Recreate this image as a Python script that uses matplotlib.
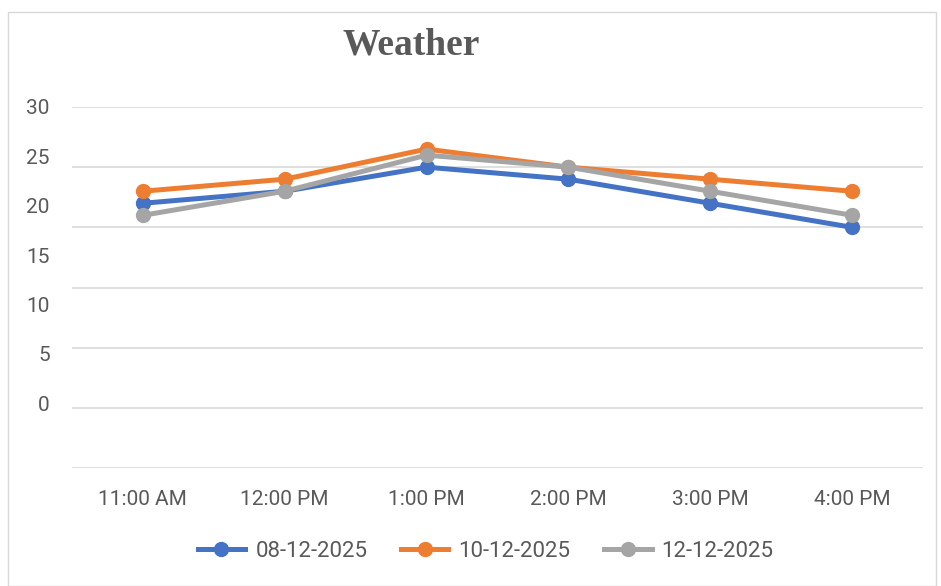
import matplotlib
matplotlib.use('Agg')
import matplotlib.pyplot as plt
from matplotlib.patches import Rectangle

# data
times = ['11:00 AM', '12:00 PM', '1:00 PM', '2:00 PM', '3:00 PM', '4:00 PM']
d_0812 = [22, 23, 25, 24, 22, 20]
d_1012 = [23, 24, 26.5, 25, 24, 23]
d_1212 = [21, 23, 26, 25, 23, 21]
ytick_labels = ['0', '5', '10', '15', '20', '25', '30']

series = [('08-12-2025', d_0812, '#4472C4'),
          ('10-12-2025', d_1012, '#ED7D31'),
          ('12-12-2025', d_1212, '#A5A5A5')]

plt.rcParams['font.family'] = ['Roboto', 'DejaVu Sans']

fig = plt.figure(figsize=(9.41, 5.86), dpi=100)
fig.patches.append(Rectangle((8/941, 0), 928/941, 574/586, transform=fig.transFigure,
                             fill=False, edgecolor='#D9D9D9', linewidth=1))

ax = fig.add_axes([72/941, 118/586, 851/941, 361/586])
x = list(range(len(times)))
for name, vals, col in series:
    ax.plot(x, vals, color=col, linewidth=3.6, marker='o', markersize=10, label=name)

ax.set_xlim(-0.5, len(times) - 0.5)
ax.set_ylim(0, 30)
ax.set_yticks(range(0, 31, 5))
ax.set_yticklabels([])
ax.grid(axis='y', color='#D9D9D9', linewidth=1.2)
ax.set_axisbelow(True)
ax.tick_params(axis='both', length=0)
ax.set_xticks(x)
ax.set_xticklabels(times, fontsize=15, color='#595959')
ax.tick_params(axis='x', pad=16)
for s in ax.spines.values():
    s.set_visible(False)

# the y labels sit off the gridlines in the original, so draw them on a twin scale
ax2 = ax.twinx()
ax2.set_ylim(-6.55, 29.8)
ax2.yaxis.set_ticks_position('left')
ax2.set_yticks(range(0, 31, 5))
ax2.set_yticklabels(ytick_labels, fontsize=15, color='#595959')
ax2.tick_params(axis='y', length=0, pad=16)
for s in ax2.spines.values():
    s.set_visible(False)

fig.text(411/941, 1 - 45/586, 'Weather', fontsize=27, fontweight='bold',
         family='Liberation Serif', color='#595959', ha='center', va='center')

leg = ax.legend(loc='center', bbox_to_anchor=(0.486, -0.23), ncol=3, frameon=False,
                fontsize=16, handlelength=2.15, columnspacing=1.5, handletextpad=0.45)
for t in leg.get_texts():
    t.set_color('#595959')

fig.savefig('out.png', dpi=100)
